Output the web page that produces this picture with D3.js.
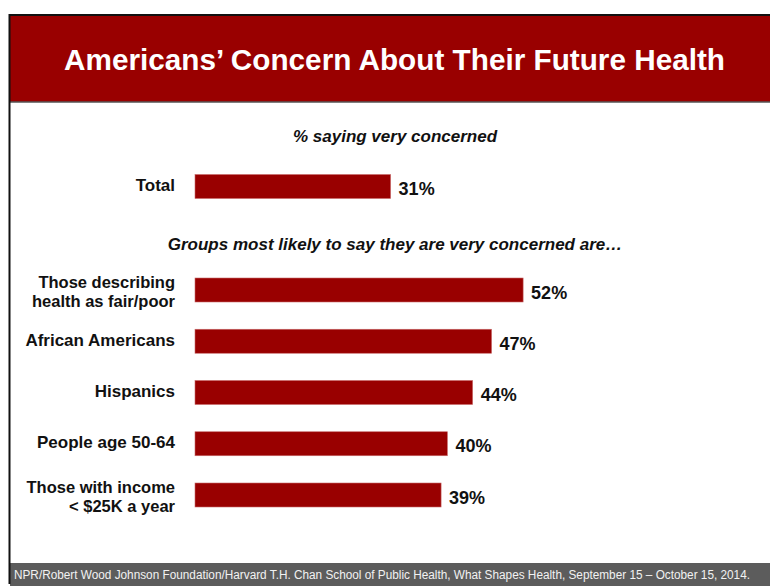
<!DOCTYPE html>
<html>
<head>
<meta charset="utf-8">
<script src="https://cdn.jsdelivr.net/npm/d3@7"></script>
<style>
  html, body { margin: 0; padding: 0; background: #fff; }
  svg { display: block; }
  text { font-family: "Liberation Sans", Arial, sans-serif; }
</style>
</head>
<body>
<svg id="chart" width="770" height="586"></svg>
<script>
// Survey results: share of each group saying they are very concerned
const titleText = "Americans\u2019 Concern About Their Future Health";
const subtitleText = "% saying very concerned";
const groupsHeading = "Groups most likely to say they are very concerned are\u2026";
const sourceText = "NPR/Robert Wood Johnson Foundation/Harvard T.H. Chan School of Public Health, What Shapes Health, September 15 \u2013 October 15, 2014.";

const totalLabel = ["Total"];
const totalValue = 31;

const groupLabels = [
  ["Those describing", "health as fair/poor"],
  ["African Americans"],
  ["Hispanics"],
  ["People age 50-64"],
  ["Those with income", "< $25K a year"]
];
const groupValues = [52, 47, 44, 40, 39];

const W = 770, H = 586;
const barColor = "#990000";
const svg = d3.select("#chart");

// Slide frame: banner, borders, footer
svg.append("rect").attr("x", 0).attr("y", 0).attr("width", W).attr("height", H).attr("fill", "#fff");
svg.append("rect").attr("x", 10).attr("y", 15).attr("width", W - 10).attr("height", 87).attr("fill", barColor);
svg.append("line").attr("x1", 9).attr("x2", W).attr("y1", 15).attr("y2", 15)
  .attr("stroke", "#111").attr("stroke-width", 2);
svg.append("line").attr("x1", 10).attr("x2", W).attr("y1", 102).attr("y2", 102)
  .attr("stroke", "#555").attr("stroke-width", 1.5);
svg.append("rect").attr("x", 10).attr("y", 563).attr("width", W - 10).attr("height", H - 563).attr("fill", "#5c5c5c");
svg.append("line").attr("x1", 9.5).attr("x2", 9.5).attr("y1", 14).attr("y2", 584)
  .attr("stroke", "#111").attr("stroke-width", 2);

svg.append("text").attr("x", 64).attr("y", 70)
  .attr("fill", "#fff").attr("font-weight", "bold").attr("font-size", 29)
  .attr("textLength", 661).attr("lengthAdjust", "spacingAndGlyphs")
  .text(titleText);

svg.append("text").attr("x", 395).attr("y", 142).attr("text-anchor", "middle")
  .attr("font-weight", "bold").attr("font-style", "italic").attr("font-size", 17)
  .attr("fill", "#111").text(subtitleText);

svg.append("text").attr("x", 395).attr("y", 250).attr("text-anchor", "middle")
  .attr("font-weight", "bold").attr("font-style", "italic").attr("font-size", 17)
  .attr("fill", "#111").text(groupsHeading);

svg.append("text").attr("x", 14).attr("y", 579)
  .attr("fill", "#f2f2f2").attr("font-size", 12)
  .attr("textLength", 736).attr("lengthAdjust", "spacingAndGlyphs")
  .text(sourceText);

// Scales
const x0 = 195;
const x = d3.scaleLinear().domain([0, 100]).range([0, 631]);
const yGroups = d3.scalePoint().domain(d3.range(groupValues.length)).range([290, 495]);
const barH = 24;
const labelX = 175;

const rows = [{ label: totalLabel, value: totalValue, cy: 186.5 }]
  .concat(groupValues.map((v, i) => ({ label: groupLabels[i], value: v, cy: yGroups(i) })));

const row = svg.append("g").selectAll("g").data(rows).join("g");

row.append("rect")
  .attr("x", x0)
  .attr("y", d => d.cy - barH / 2)
  .attr("width", d => x(d.value))
  .attr("height", barH)
  .attr("fill", barColor)
  .attr("stroke", "#c86a6a").attr("stroke-width", 0.6);

row.append("text")
  .attr("x", d => x0 + x(d.value) + 8)
  .attr("y", d => d.cy + 8.5)
  .attr("font-weight", "bold").attr("font-size", 18).attr("fill", "#111")
  .text(d => d.value + "%");

// Category labels, right-aligned; two-line labels are set as separate lines
row.each(function (d) {
  const g = d3.select(this);
  const lines = d.label;
  const fs = lines.length === 1 ? 17 : 16.5;
  const first = lines.length === 1 ? d.cy + 4.5 : d.cy - 2.5;
  lines.forEach((s, j) => {
    g.append("text")
      .attr("text-anchor", "end")
      .attr("font-weight", "bold").attr("font-size", fs).attr("fill", "#111")
      .attr("x", labelX).attr("y", first + j * 19)
      .text(s);
  });
});
</script>
</body>
</html>
